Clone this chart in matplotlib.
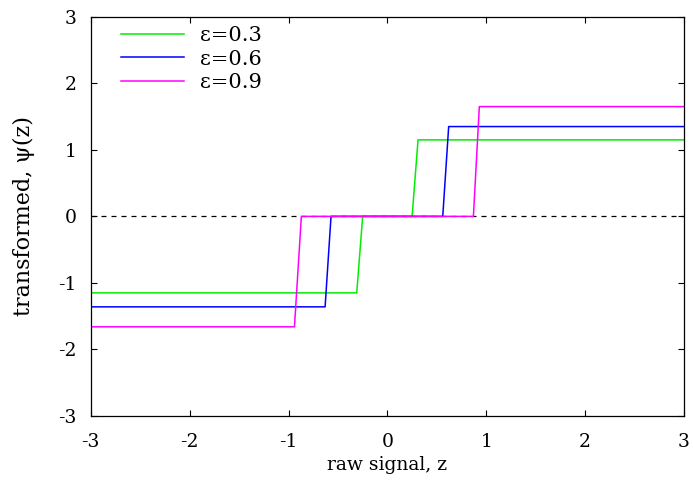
import matplotlib
matplotlib.use("Agg")
import matplotlib.pyplot as plt

plt.rcParams['font.family'] = ['DejaVu Serif']
plt.rcParams['font.size'] = 13.5
plt.rcParams['axes.unicode_minus'] = False

# step curves
z_03 = [-3, -0.31, -0.25, 0.25, 0.31, 3]
psi_03 = [-1.15, -1.15, 0, 0, 1.15, 1.15]
z_06 = [-3, -0.63, -0.57, 0.56, 0.62, 3]
psi_06 = [-1.36, -1.36, 0, 0, 1.35, 1.35]
z_09 = [-3, -0.94, -0.87, 0.87, 0.93, 3]
psi_09 = [-1.66, -1.66, 0, 0, 1.65, 1.65]
labels = ['ε=0.3', 'ε=0.6', 'ε=0.9']
ticks = [-3, -2, -1, 0, 1, 2, 3]

fig = plt.figure(figsize=(6.93, 4.94), dpi=100)
ax = fig.add_axes([0.131, 0.158, 0.856, 0.808])

ax.axhline(0, color='black', lw=0.9, ls=(0, (4, 4)), zorder=1)
ax.plot(z_03, psi_03, color='#00ee00', lw=1.1, label=labels[0], zorder=2)
ax.plot(z_06, psi_06, color='#0000ff', lw=1.1, label=labels[1], zorder=2)
ax.plot(z_09, psi_09, color='#ff00ff', lw=1.1, label=labels[2], zorder=2)

ax.set_xlim(-3, 3)
ax.set_ylim(-3, 3)
ax.set_xticks(ticks)
ax.set_yticks(ticks)
ax.tick_params(direction='in', top=True, right=True, length=4.5, width=0.8, pad=10)
ax.tick_params(axis='x', pad=12)
for s in ax.spines.values():
    s.set_linewidth(0.9)

ax.set_xlabel('raw signal, z', labelpad=4)
ax.set_ylabel('transformed, ψ(z)', fontsize=16, labelpad=17)

ax.legend(loc='upper left', bbox_to_anchor=(0.03, 1.008), frameon=False, fontsize=15,
          handlelength=3.0, handletextpad=0.8, labelspacing=0.22, borderaxespad=0.2)

fig.savefig('out.png', dpi=100)
